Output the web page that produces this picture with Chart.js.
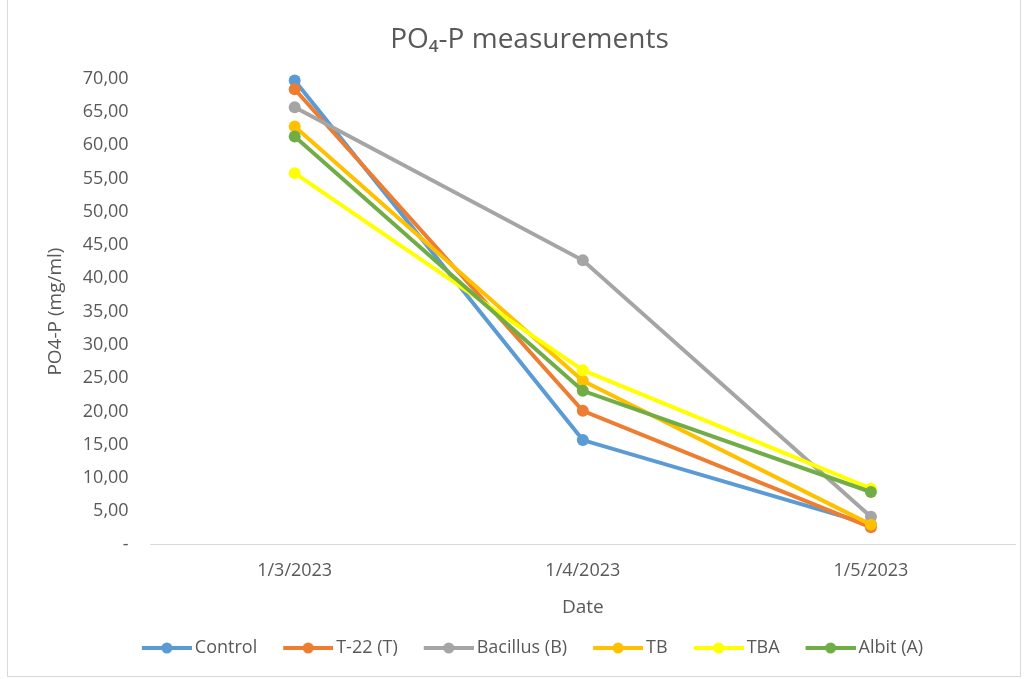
<!DOCTYPE html>
<html>
<head>
<meta charset="utf-8">
<script src="https://cdn.jsdelivr.net/npm/chart.js@4/dist/chart.umd.min.js"></script>
<style>
  body { margin: 0; background: #fff; }
  #marco { position: absolute; left: 7px; top: 0; width: 1012px; height: 676px; border: 1px solid #d9d9d9; border-top: none; }
  #wrap { position: absolute; left: 0; top: 0; width: 1027px; height: 679px; }
</style>
</head>
<body>
<div id="marco"></div>
<div id="wrap"><canvas id="grafico"></canvas></div>
<script>
const fechas = ['1/3/2023', '1/4/2023', '1/5/2023'];
const series = ['Control', 'T-22 (T)', 'Bacillus (B)', 'TB', 'TBA', 'Albit (A)'];
const colores = ['#5B9BD5', '#ED7D31', '#A5A5A5', '#FFC000', '#FFFF00', '#70AD47'];
const control = [69.7, 15.7, 3.0];
const t22 = [68.4, 20.1, 2.6];
const bacillus = [65.7, 42.7, 4.2];
const tb = [62.8, 24.6, 3.0];
const tba = [55.8, 26.2, 8.4];
const albit = [61.3, 23.1, 7.9];
const valores = [control, t22, bacillus, tb, tba, albit];

const anchoCaja = 50;

// simbolo de leyenda: linea con punto, pegado al texto
function simbolo(color) {
    const c = document.createElement('canvas');
    c.width = anchoCaja + 12; c.height = 14;
    const g = c.getContext('2d');
    const x0 = c.width - 50;
    g.strokeStyle = color;
    g.lineWidth = 4;
    g.beginPath(); g.moveTo(x0, 7); g.lineTo(c.width, 7); g.stroke();
    g.fillStyle = color;
    g.beginPath(); g.arc(x0 + 25, 7, 5.5, 0, Math.PI * 2); g.fill();
    return c;
}

const ctx = document.getElementById('grafico').getContext('2d');
new Chart(ctx, {
    type: 'line',
    data: {
        labels: fechas,
        datasets: series.map((nombre, i) => ({
            label: nombre,
            data: valores[i],
            borderColor: colores[i],
            backgroundColor: colores[i],
            borderWidth: 4,
            pointRadius: 6,
            pointHoverRadius: 6,
            pointBorderWidth: 0,
            clip: false,
            order: series.length - i
        }))
    },
    options: {
        responsive: true,
        maintainAspectRatio: false,
        animation: false,
        layout: { padding: { left: 44, right: 12, top: 10, bottom: 12 } },
        plugins: {
            title: {
                display: true,
                text: 'PO\u2084-P measurements',
                color: '#595959',
                font: { family: 'Open Sans', size: 28, weight: 'normal' },
                padding: { top: 13, bottom: 22 }
            },
            legend: {
                position: 'bottom',
                labels: {
                    usePointStyle: true,
                    pointStyleWidth: anchoCaja,
                    color: '#595959',
                    font: { family: 'Open Sans', size: 18 },
                    padding: 20,
                    generateLabels: chart => chart.data.datasets.map((ds, i) => ({
                        text: ds.label,
                        pointStyle: simbolo(ds.borderColor),
                        fillStyle: ds.borderColor,
                        strokeStyle: ds.borderColor,
                        lineWidth: 0,
                        fontColor: '#595959',
                        datasetIndex: i,
                        hidden: false
                    }))
                }
            },
            tooltip: { enabled: false }
        },
        scales: {
            x: {
                offset: true,
                grid: { display: false, drawTicks: false, offset: true },
                border: { color: '#d9d9d9', width: 1 },
                ticks: { color: '#595959', font: { family: 'Open Sans', size: 18 }, padding: 15 },
                title: { display: true, text: 'Date', color: '#595959', font: { family: 'Open Sans', size: 19 }, padding: { top: 0, bottom: 0 } }
            },
            y: {
                min: 0,
                max: 70,
                grid: { display: false, drawTicks: false },
                border: { display: false },
                ticks: {
                    stepSize: 5,
                    color: '#595959',
                    font: { family: 'Open Sans', size: 18 },
                    padding: 22,
                    callback: v => v === 0 ? '-' : v.toFixed(2).replace('.', ',')
                },
                title: { display: true, text: 'PO4-P (mg/ml)', color: '#595959', font: { family: 'Open Sans', size: 19 }, padding: { top: 0, bottom: -6 } }
            }
        }
    }
});
</script>
</body>
</html>
